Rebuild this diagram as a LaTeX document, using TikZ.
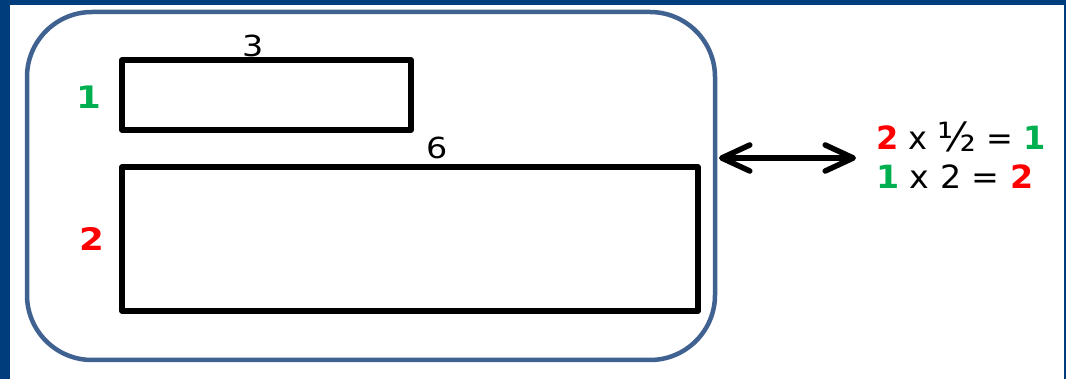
\documentclass[tikz,border=0pt]{standalone}
\usepackage{fontspec}
\setmainfont{DejaVu Sans}
\usetikzlibrary{arrows.meta}
\definecolor{frameblue}{RGB}{0,61,125}
\definecolor{outline}{RGB}{63,98,145}
\definecolor{mygreen}{RGB}{0,176,80}
\definecolor{myred}{RGB}{255,0,0}
\newcommand{\sx}[1]{\scalebox{1.15}[1]{#1}}
\tikzset{
  box/.style={draw=black, line width=5.5pt, rectangle, inner sep=0pt, line join=round},
  outerbox/.style={draw=outline, line width=4.5pt, rectangle, rounded corners=65pt, inner sep=0pt},
  lbl/.style={inner sep=0pt},
  dblarrow/.style={line width=5.5pt, {Straight Barb[length=28pt,width=26pt,round]}-{Straight Barb[length=28pt,width=26pt,round]}}
}
\begin{document}
\begin{tikzpicture}[x=1pt,y=-1pt]
\useasboundingbox (0,0) rectangle (1066,379);
\fill[frameblue] (0,0) rectangle (1066,379);
\fill[white] (10,5) rectangle (1064,379);
\node[outerbox, minimum width=688pt, minimum height=348pt] (outer) at (371,186) {};
\node[box, minimum width=289pt, minimum height=70pt] (small) at (266.5,95) {};
\node[box, minimum width=576pt, minimum height=144pt] (big) at (410,239) {};
\node[lbl, font=\fontsize{29}{32}\selectfont] (l3) at (253,46) {\sx{3}};
\node[lbl, font=\fontsize{29}{32}\selectfont] (l6) at (437.5,147.5) {\sx{6}};
\node[lbl, font=\fontsize{31}{34}\selectfont\bfseries, text=mygreen] (l1) at (88.5,97) {\sx{1}};
\node[lbl, font=\fontsize{31}{34}\selectfont\bfseries, text=myred] (l2) at (92,238.5) {\sx{2}};
\node[lbl, anchor=base west, font=\fontsize{32}{36}\selectfont] (eq1) at (876,150)
  {\scalebox{1.0}[1]{\textbf{\color{myred}2} x \raisebox{-2pt}{\fontsize{40}{40}\selectfont ½} = \textbf{\color{mygreen}1}}};
\node[lbl, anchor=base west, font=\fontsize{32}{36}\selectfont] (eq2) at (876,189)
  {\scalebox{1.04}[1]{\textbf{\color{mygreen}1} x 2 = \textbf{\color{myred}2}}};
\coordinate (a1) at (719,158);
\coordinate (a2) at (856,158);
\draw[dblarrow] (a1) -- (a2);
\end{tikzpicture}
\end{document}
